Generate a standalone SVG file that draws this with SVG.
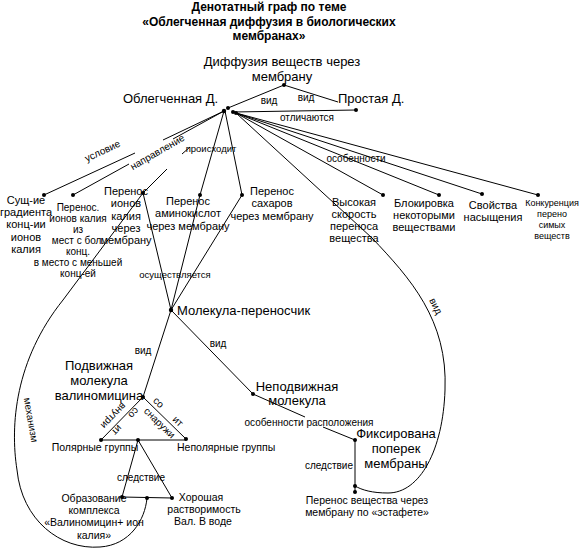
<svg xmlns="http://www.w3.org/2000/svg" width="581" height="551" viewBox="0 0 581 551">
<style>
text{font-family:"Liberation Sans",Arial,sans-serif;fill:#000}
.t{font-weight:bold;font-size:12px;text-anchor:middle}
.n13{font-size:13px}
.n11{font-size:11px;text-anchor:middle}
.n10{font-size:10px;text-anchor:middle}
.lb{font-size:10px;text-anchor:middle}
.c{text-anchor:middle}
line,path{stroke:#000;stroke-width:1;fill:none}
circle{fill:#000}
</style>
<rect width="581" height="551" fill="#fff"/>
<g id="title">
<text class="t" x="269" y="11">Денотатный граф по теме</text>
<text class="t" x="269" y="25.5">«Облегченная диффузия в биологических</text>
<text class="t" x="269" y="40">мембранах»</text>
</g>
<g id="connectors">
<line x1="284" y1="85" x2="228" y2="108"/>
<line x1="284" y1="85" x2="338" y2="102"/>
<line x1="233" y1="112" x2="356" y2="110"/>
<line x1="236" y1="113" x2="383" y2="195"/>
<line x1="236" y1="113" x2="439" y2="195"/>
<line x1="236" y1="113" x2="482" y2="194"/>
<line x1="236" y1="113" x2="538" y2="195"/>
<line x1="44" y1="195" x2="135" y2="153"/>
<line x1="163" y1="140" x2="224" y2="111"/>
<line x1="73" y1="195" x2="129" y2="164"/>
<line x1="173" y1="139" x2="224" y2="111"/>
<line x1="143" y1="193" x2="167" y2="169"/>
<line x1="182" y1="154" x2="190" y2="147"/>
<line x1="224" y1="111" x2="200" y2="195"/>
<line x1="225" y1="111" x2="242" y2="195"/>
<line x1="143" y1="193" x2="171" y2="310"/>
<line x1="200" y1="195" x2="171" y2="310"/>
<line x1="242" y1="195" x2="171" y2="310"/>
<line x1="171" y1="310" x2="143" y2="397"/>
<line x1="171" y1="310" x2="253" y2="394"/>
<line x1="253" y1="394" x2="305" y2="417"/>
<line x1="323" y1="427" x2="355" y2="440"/>
<line x1="355" y1="440" x2="355" y2="492"/>
<line x1="143" y1="397" x2="101" y2="440"/>
<line x1="143" y1="397" x2="186" y2="439"/>
<line x1="101" y1="440" x2="186" y2="440"/>
<line x1="138" y1="440" x2="122" y2="497"/>
<line x1="138" y1="440" x2="172" y2="498"/>
<line x1="122" y1="497" x2="172" y2="498"/>
<path d="M236,113 L372,238 C410,278 448,320 445,390 C443,450 420,493 388,493 C372,493 362,490 355,486"/>
<path d="M147,498 C145,520 130,545 100,547 C60,550 22,520 17,470 C10,425 15,360 63,300 L143,193"/>
</g>
<g id="dots">
<circle cx="284" cy="85" r="2"/>
<circle cx="224" cy="111" r="2.2"/>
<circle cx="228" cy="108" r="2"/>
<circle cx="233" cy="112" r="2"/>
<circle cx="236" cy="113" r="2"/>
<circle cx="356" cy="110" r="2"/>
<circle cx="44" cy="195" r="2"/>
<circle cx="73" cy="195" r="2"/>
<circle cx="143" cy="193" r="2"/>
<circle cx="200" cy="195" r="2"/>
<circle cx="242" cy="195" r="2"/>
<circle cx="383" cy="195" r="2"/>
<circle cx="439" cy="195" r="2"/>
<circle cx="482" cy="194" r="2"/>
<circle cx="538" cy="195" r="2"/>
<circle cx="171" cy="310" r="2.2"/>
<circle cx="143" cy="397" r="2"/>
<circle cx="253" cy="394" r="2"/>
<circle cx="355" cy="440" r="2"/>
<circle cx="355" cy="486" r="2"/>
<circle cx="355" cy="492" r="2"/>
<circle cx="101" cy="440" r="2"/>
<circle cx="138" cy="440" r="2"/>
<circle cx="186" cy="439" r="2"/>
<circle cx="122" cy="497" r="2"/>
<circle cx="147" cy="498" r="2"/>
<circle cx="172" cy="498" r="2"/>
</g>
<g id="n-diffusion"><text class="n13 c" x="282" y="66">Диффузия веществ через</text><text class="n13 c" x="282" y="81">мембрану</text></g>
<g id="n-facilitated"><text class="n13" x="123" y="103">Облегченная Д.</text></g>
<g id="n-simple"><text class="n13" x="338" y="103">Простая Д.</text></g>
<g id="n-gradient"><text class="n11"><tspan x="26" y="204">Сущ-ие</tspan><tspan x="26" y="216.2">градиента</tspan><tspan x="26" y="228.4">конц-ии</tspan><tspan x="26" y="240.6">ионов</tspan><tspan x="26" y="252.8">калия</tspan></text></g>
<g id="n-direction"><text class="n10"><tspan x="78" y="210.5">Перенос.</tspan><tspan x="78" y="221.5">ионов калия</tspan><tspan x="78" y="232.5">из</tspan><tspan x="78" y="243.5">мест с бол.</tspan><tspan x="78" y="254.5">конц.</tspan><tspan x="78" y="265.5">в место с меньшей</tspan><tspan x="78" y="276.5">конц-ей</tspan></text></g>
<g id="n-potassium"><text class="n11"><tspan x="126" y="195">Перенос</tspan><tspan x="126" y="207.3">ионов</tspan><tspan x="126" y="219.6">калия</tspan><tspan x="126" y="231.9">через</tspan><tspan x="126" y="244.2">мембрану</tspan></text></g>
<g id="n-amino"><text class="n11"><tspan x="188" y="205">Перенос</tspan><tspan x="188" y="217.3">аминокислот</tspan><tspan x="188" y="229.6">через мембрану</tspan></text></g>
<g id="n-sugar"><text class="n11"><tspan x="272" y="195">Перенос</tspan><tspan x="272" y="207.3">сахаров</tspan><tspan x="272" y="219.6">через мембрану</tspan></text></g>
<g id="n-speed"><text class="n11"><tspan x="354" y="206">Высокая</tspan><tspan x="354" y="218">скорость</tspan><tspan x="354" y="230">переноса</tspan><tspan x="354" y="242">вещества</tspan></text></g>
<g id="n-block"><text class="n11"><tspan x="424" y="207">Блокировка</tspan><tspan x="424" y="219">некоторыми</tspan><tspan x="424" y="231">веществами</tspan></text></g>
<g id="n-saturation"><text class="n11"><tspan x="493" y="209">Свойства</tspan><tspan x="493" y="221">насыщения</tspan></text></g>
<g id="n-competition"><text class="n10" style="font-size:9px"><tspan x="552" y="205.5">Конкуренция</tspan><tspan x="552" y="216.5">перено</tspan><tspan x="552" y="227.5">симых</tspan><tspan x="552" y="238.5">веществ</tspan></text></g>
<g id="n-carrier"><text class="n13" x="177" y="314.5">Молекула-переносчик</text></g>
<g id="n-mobile"><text class="n13 c"><tspan x="99" y="369.5">Подвижная</tspan><tspan x="99" y="384.5">молекула</tspan><tspan x="99" y="399.5">валиномицина</tspan></text></g>
<g id="n-fixed"><text class="n13 c"><tspan x="297" y="390.5">Неподвижная</tspan><tspan x="297" y="404.5">молекула</tspan></text></g>
<g id="n-across"><text class="n13 c"><tspan x="396" y="437.5">Фиксирована</tspan><tspan x="396" y="452.5">поперек</tspan><tspan x="396" y="467.5">мембраны</tspan></text></g>
<g id="n-relay"><text class="n11" style="font-size:10.5px"><tspan x="367" y="503.5">Перенос вещества через</tspan><tspan x="367" y="515.5">мембрану по «эстафете»</tspan></text></g>
<g id="n-polar"><text class="n11" style="font-size:10.5px" x="95" y="451">Полярные группы</text></g>
<g id="n-nonpolar"><text class="n11" style="font-size:10.5px;text-anchor:start" x="177" y="451">Неполярные группы</text></g>
<g id="n-complex"><text class="n11" style="font-size:10.5px"><tspan x="94" y="501.7">Образование</tspan><tspan x="94" y="514">комплекса</tspan><tspan x="94" y="526.3">«Валиномицин+ ион</tspan><tspan x="94" y="538.6">калия»</tspan></text></g>
<g id="n-soluble"><text class="n11" style="font-size:10.5px"><tspan x="201" y="500.7">Хорошая</tspan><tspan x="204" y="513">растворимость</tspan><tspan x="203" y="525.3">Вал. В воде</tspan></text></g>
<g id="labels">
<text class="lb" x="269" y="104">вид</text>
<text class="lb" x="306" y="101">вид</text>
<text class="lb" x="307" y="120.5">отличаются</text>
<text class="lb" transform="translate(104,154) rotate(-25)">условие</text>
<text class="lb" transform="translate(159,155) rotate(-30)">направление</text>
<text class="lb" style="font-size:9.5px" x="211" y="151.5">происходит</text>
<text class="lb" x="356" y="161.5">особенности</text>
<text class="lb" style="font-size:9.5px" x="175" y="277.5">осуществляется</text>
<text class="lb" x="143" y="353.5">вид</text>
<text class="lb" x="218" y="346.5">вид</text>
<text class="lb" transform="translate(436,306) rotate(62)" y="3.5">вид</text>
<text class="lb" x="309" y="425.5">особенности расположения</text>
<text class="lb" style="text-anchor:end" x="353" y="468.5">следствие</text>
<text class="lb" x="141" y="480.5">следствие</text>
<text class="lb" transform="translate(31,420) rotate(80)" y="3.5">механизм</text>
<g transform="translate(143,397) rotate(134)">
<text class="lb" x="18" y="-1">со</text>
<text class="lb" x="42" y="-1">ит</text>
<text class="lb" x="34" y="11.5">внутри</text>
</g>
<g transform="translate(143,397) rotate(44)">
<text class="lb" x="15" y="-3.5">со</text>
<text class="lb" x="42" y="-3.5">ит</text>
<text class="lb" x="30" y="10.5">снаружи</text>
</g>
</g>
</svg>
